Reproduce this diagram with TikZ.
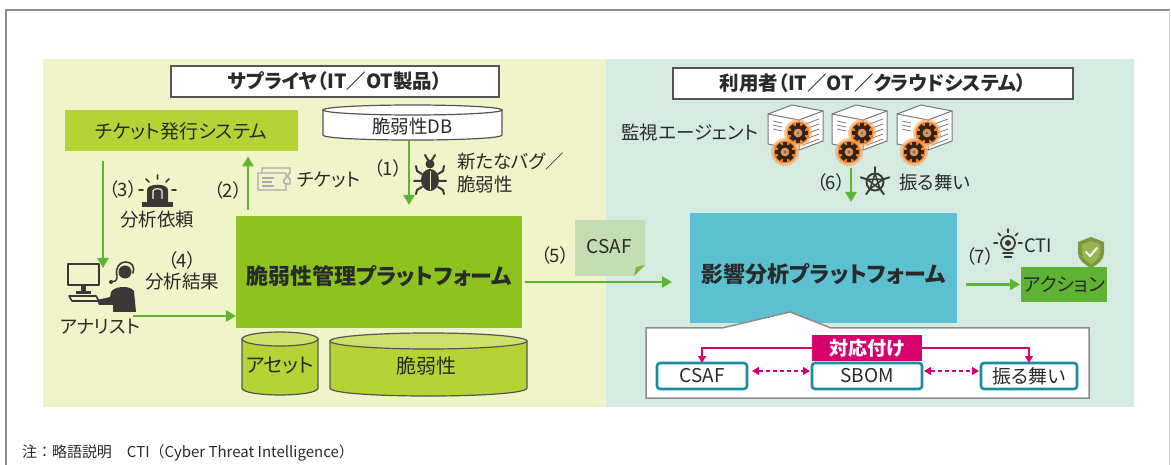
\documentclass[tikz,border=0pt]{standalone}
\usepackage{fontspec}
\setmainfont{Noto Sans CJK JP}[RawFeature={+palt}]
\newfontfamily\plainjp{Noto Sans CJK JP}
\usepackage{tikz}
\usetikzlibrary{arrows.meta,positioning,calc}

\definecolor{inkgray}  {RGB}{ 42, 42, 42}
\definecolor{icondark} {RGB}{ 58, 56, 55}
\definecolor{boxline}  {RGB}{ 85, 85, 85}
\definecolor{framegray}{RGB}{140,140,140}
\definecolor{supzone}  {RGB}{241,244,200}
\definecolor{usrzone}  {RGB}{213,234,225}
\definecolor{limebox}  {RGB}{181,211, 52}
\definecolor{limetop}  {RGB}{205,224,106}
\definecolor{vmgreen}  {RGB}{141,194, 31}
\definecolor{arrgreen} {RGB}{ 92,182, 50}
\definecolor{notegreen}{RGB}{196,221,178}
\definecolor{foldgreen}{RGB}{125,181, 73}
\definecolor{iacyan}   {RGB}{ 91,193,208}
\definecolor{actgreen} {RGB}{ 94,179, 50}
\definecolor{mapred}   {RGB}{214,  0,111}
\definecolor{itemteal} {RGB}{ 24,142,160}
\definecolor{srvline}  {RGB}{120,120,120}
\definecolor{gearglow} {RGB}{247,165, 90}
\definecolor{gearorange}{RGB}{236,128, 45}
\definecolor{geardark} {RGB}{ 52, 34, 20}
\definecolor{gearface} {RGB}{214,150, 95}
\definecolor{shieldol} {RGB}{122,152, 62}
\definecolor{shieldlt} {RGB}{152,180, 84}
\definecolor{tktgray}  {RGB}{170,170,170}

\tikzset{
  txt/.style={font=\fontsize{18.5pt}{23pt}\selectfont,text=inkgray,
              inner sep=0pt,outer sep=0pt},
  boxtxt/.style={txt,font=\fontsize{19pt}{22pt}\selectfont},
  zone/.style={anchor=north west,inner sep=0pt,outer sep=0pt},
  headbox/.style={txt,draw=boxline,fill=white,line width=1.3pt,
                  font=\fontsize{19.5pt}{22pt}\selectfont\bfseries},
  sysbox/.style={boxtxt,fill=limebox},
  platbox/.style={inner sep=0pt,outer sep=0pt},
  plattxt/.style={txt,font=\fontsize{22pt}{26pt}\selectfont\bfseries},
  cyl/.style={draw=boxline,line width=1.2pt},
  mapbox/.style={boxtxt,fill=mapred,text=white,
                 font=\fontsize{19pt}{22pt}\selectfont\bfseries},
  itembox/.style={boxtxt,draw=itemteal,fill=white,line width=2.6pt,
                  rounded corners=3pt},
  garr/.style={-{Triangle[length=10pt,width=11pt]},line width=2.6pt,draw=arrgreen},
  marr/.style={-{Triangle[length=7pt,width=8pt]},line width=1.6pt,draw=mapred},
  mdash/.style={{Triangle[length=7pt,width=8pt]}-{Triangle[length=7pt,width=8pt]},
                line width=1.4pt,draw=mapred,dash pattern=on 4pt off 3pt},
  icon/.style={draw=icondark,line width=2pt,line cap=round,line join=round},
  fnote/.style={txt,font=\plainjp\fontsize{15pt}{17pt}\selectfont},
  pics/gear/.style={code={
    \fill[gearglow,opacity=.6] (0,0) circle (14pt);
    \fill[gearorange] (0,0) circle (11.5pt);
    \foreach \a in {0,45,...,315}
      \fill[geardark,rotate=\a] (-2.4,5.5) rectangle (2.4,10);
    \fill[geardark] (0,0) circle (7.3pt);
    \fill[gearface] (0,0) circle (4.4pt);
    \fill[geardark!70] (0,0) circle (1.3pt);
  }},
  pics/server/.style={code={
    \filldraw[draw=srvline,fill=white,line width=1pt,line join=round]
      (0,9) -- (24,0) -- (55,6) -- (55,36) -- (31,45) -- (0,39) -- cycle;
    \draw[srvline,line width=1pt] (0,9) -- (31,15) -- (55,6) (31,15) -- (31,45);
    \foreach \v in {0,1,2}
      \draw[srvline,line width=.8pt] (5,16+4*\v) -- (14,18+4*\v);
    \foreach \v in {0,...,4}
      \draw[srvline,line width=.8pt] (35,20+5*\v) -- (51,14+5*\v);
    \pic at (30,28) {gear};
    \pic at (17,47) {gear};
  }},
}

\begin{document}
\begin{tikzpicture}[x=1pt,y=-1pt]
  \useasboundingbox (0,0) rectangle (1171,465);

  % outer frame
  \draw[framegray,line width=2pt] (6,465) -- (6,10) -- (1170,10);
  \draw[framegray!45,line width=1pt] (1169,10) -- (1169,465);

  % two zones
  \node[zone,fill=supzone,minimum width=563pt,minimum height=348pt] (supz) at (43,59) {};
  \node[zone,fill=usrzone,minimum width=528pt,minimum height=348pt] (usrz) at (606,59) {};

  \node[headbox,minimum width=328pt,minimum height=31pt] (suphead) at (335,81.5)
    {サプライヤ（IT／OT製品）};
  \node[headbox,minimum width=400pt,minimum height=31pt] (usrhead) at (873,83.5)
    {利用者（IT／OT／クラウドシステム）};

  % supplier side
  \node[sysbox,minimum width=233pt,minimum height=41pt] (ticket) at (181.5,131)
    {チケット発行システム};

  \draw[cyl,fill=white] (323,110) -- (323,135) .. controls (323,141.7) and (502,141.7) .. (502,135) -- (502,110) -- cycle;
  \draw[cyl,fill=white] (412.5,110) ellipse[x radius=89.5,y radius=5];
  \node[txt] (db) at (412.5,126) {脆弱性DB};
  \coordinate (dbfoot) at (409,140);

  \node[platbox,fill=vmgreen,minimum width=286pt,minimum height=112pt] (vmp) at (379,272) {};
  \node[plattxt] (vmptxt) at ([yshift=-4pt]vmp.center) {脆弱性管理プラットフォーム};

  \draw[cyl,fill=limebox] (242,339) -- (242,388) .. controls (242,397.3) and (318,397.3) .. (318,388) -- (318,339) -- cycle;
  \draw[cyl,fill=limetop] (280,339) ellipse[x radius=38,y radius=7];
  \node[txt,font=\fontsize{20pt}{24pt}\selectfont] (asset) at (280,366) {アセット};

  \draw[cyl,fill=limebox] (330,341) -- (330,388) .. controls (330,398.7) and (527,398.7) .. (527,388) -- (527,341) -- cycle;
  \draw[cyl,fill=limetop] (428.5,341) ellipse[x radius=98.5,y radius=8];
  \node[txt,font=\fontsize{20pt}{24pt}\selectfont] (vuln) at (426,366) {脆弱性};

  % analyst
  \draw[icon,line width=2.4pt] (68,264) rectangle (99,285);
  \fill[icondark] (81,286) rectangle (86,292);
  \fill[icondark] (76,291) rectangle (91,294);
  \draw[icon,line width=1.6pt] (69,296) -- (96,296) -- (99,301) -- (72,301) -- cycle;
  \fill[icondark] (125,272) circle (6.5pt);
  \draw[icon,line width=1.6pt] (117,276) .. controls (115,268) and (119,262) .. (126,262)
    .. controls (132,262) and (135,267) .. (133,273);
  \draw[icon,line width=1.4pt] (117,277) .. controls (117,281) and (114,282) .. (111,282);
  \fill[icondark] (111,282) circle (2pt);
  \fill[icondark] (111,292) .. controls (114,286) and (130,285) .. (134,291)
    -- (136,312) -- (113,312) -- (113,305) -- (99,305) -- (97,300) -- (110,297) -- cycle;
  \node[txt] (analyst) at (100,327) {アナリスト};
  \coordinate (anhead) at (103,268);
  \coordinate (anhand) at (133,316);

  % siren
  \fill[icondark] (147,202) -- (147,190) .. controls (147,183) and (168,183) .. (168,190) -- (168,202) -- cycle;
  \draw[supzone,line width=1.2pt] (153,199) -- (153,191) .. controls (153,188) and (162,188) .. (162,191) -- (162,199);
  \fill[icondark] (142,202) rectangle (173,207);
  \draw[icon,line width=1.6pt] (157.5,175) -- (157.5,179) (146,179) -- (149,182) (169,179) -- (166,182)
    (139,190) -- (143,190) (172,190) -- (176,190);

  % ticket
  \draw[tktgray,line width=1.4pt,fill=supzone] (262,168) -- (290,168) -- (290,173)
    .. controls (287,174) and (287,178) .. (290,179) -- (290,184) -- (262,184) -- cycle;
  \draw[tktgray,line width=1.4pt,fill=supzone] (258,173) -- (286,173) -- (286,178)
    .. controls (283,179) and (283,183) .. (286,184) -- (286,190) -- (258,190) -- cycle;
  \draw[tktgray,line width=1.2pt] (262,178) -- (274,178) (262,182) -- (272,182) (262,186) -- (274,186);

  % bug
  \fill[icondark] (430,164) circle (4.5pt);
  \fill[icondark] (430,180) ellipse[x radius=9,y radius=11];
  \draw[supzone,line width=1pt] (430,171) -- (430,190);
  \draw[icon,line width=2pt] (428,160) -- (425,155) (432,160) -- (435,155)
    (422,174) -- (417,171) -- (416,166) (438,174) -- (443,171) -- (444,166)
    (421,181) -- (414,181) (439,181) -- (446,181)
    (422,187) -- (417,190) -- (416,194) (438,187) -- (443,190) -- (444,194);

  % supplier labels
  \node[txt] (n1) at (388,168) {（1）};
  \node[txt,anchor=west,align=left] (newbug) at (457,173) {新たなバグ／\\脆弱性};
  \node[txt] (n2) at (228,190) {（2）};
  \node[txt,anchor=west] (tkt) at (297,180) {チケット};
  \node[txt] (n3) at (123,189) {（3）};
  \node[txt] (req) at (157,220) {分析依頼};
  \node[txt] (n4) at (182,260) {（4）};
  \node[txt,below=4pt of n4] (res) {分析結果};
  \node[txt] (n5) at (555,255) {（5）};

  % CSAF note
  \fill[notegreen] (575,220) -- (645,220) -- (645,265) -- (634,276) -- (575,276) -- cycle;
  \fill[foldgreen] (645,265) -- (634,276) -- (636,267) -- cycle;
  \node[boxtxt] (csafnote) at (609,247) {CSAF};

  % user side
  \pic at (768,105) {server};
  \pic at (832,105) {server};
  \pic at (897,105) {server};
  \node[txt,anchor=east] (agent) at (758,132) {監視エージェント};
  \coordinate (agfoot) at (851,168);

  \draw[icon,line width=1.9pt] (875,182) circle (8.5pt);
  \draw[icon,line width=1.5pt] ($(875,182)+(-90:8.5)$)
    -- ($(875,182)+(54:8.5)$) -- ($(875,182)+(198:8.5)$) -- ($(875,182)+(-18:8.5)$)
    -- ($(875,182)+(126:8.5)$) -- cycle;
  \foreach \a in {-90,-18,54,126,198}
    \draw[icon,line width=1.9pt] ($(875,182)+(\a:8.5)$) -- ($(875,182)+(\a:15)$);
  \node[txt] (n6) at (831,182) {（6）};
  \node[txt,anchor=west] (behave) at (899,182) {振る舞い};

  \node[platbox,fill=iacyan,minimum width=267pt,minimum height=110pt] (vip) at (823.5,268) {};
  \node[plattxt] (viptxt) at ([yshift=-6pt]vip.center) {影響分析プラットフォーム};

  \node[boxtxt,fill=actgreen,minimum width=86pt,minimum height=35pt] (action) at (1064,284.5) {アクション};

  % bulb
  \draw[icon,line width=1.8pt] (1008,243) circle (7pt);
  \fill[icondark] (1008,243) circle (3pt);
  \draw[icon,line width=1.8pt] (1003,253) -- (1013,253) (1004.5,257) -- (1011.5,257);
  \foreach \a in {180,225,270,315,0}
    \draw[icon,line width=1.6pt] ($(1008,243)+(\a:10.5)$) -- ($(1008,243)+(\a:14)$);
  \node[txt] (n7) at (980,256) {（7）};
  \node[txt,anchor=west] (cti) at (1024,246) {CTI};

  % shield
  \fill[shieldol] (1078,242) -- (1091,237) -- (1104,242) -- (1104,253)
    .. controls (1104,260) and (1097,265) .. (1091,268) .. controls (1085,265) and (1078,260) .. (1078,253) -- cycle;
  \fill[shieldlt] (1082,244.5) -- (1091,241) -- (1100,244.5) -- (1100,253)
    .. controls (1100,258) and (1095,262) .. (1091,264) .. controls (1087,262) and (1082,258) .. (1082,253) -- cycle;
  \draw[white,line width=2pt,line cap=round,line join=round] (1086,252) -- (1090,256) -- (1097,248);

  % callout with the mapping
  \draw[framegray,line width=1.5pt,fill=white,line join=miter]
    (646,328) -- (722,328) -- (790,312) -- (831,328) -- (1089,328) -- (1089,398) -- (646,398) -- cycle;
  \node[mapbox,minimum width=110pt,minimum height=26pt] (map) at (867,348) {対応付け};
  \node[itembox,minimum width=90pt,minimum height=26pt] (csafbox) at (702,376) {CSAF};
  \node[itembox,minimum width=110pt,minimum height=26pt] (sbombox) at (867,376) {SBOM};
  \node[itembox,minimum width=96pt,minimum height=26pt] (behbox) at (1029,376) {振る舞い};

  % flows
  \draw[garr,shorten >=11pt] (dbfoot) -- (dbfoot |- vmp.north);
  \draw[garr,shorten <=6pt,shorten >=5pt] ([xshift=12pt]vmp.north west) -- ([xshift=12pt]vmp.north west |- ticket.south);
  \draw[garr,shorten <=10pt] (ticket.south -| anhead) -- (anhead);
  \draw[garr] (anhand) -- (anhand -| vmp.west);
  \draw[garr,shorten <=3pt,shorten >=18pt] ([yshift=-10pt]vmp.east) -- ([yshift=-10pt]vmp.east -| vip.west);
  \draw[garr,shorten >=11pt] (agfoot) -- (agfoot |- vip.north);
  \draw[garr,shorten <=9pt,shorten >=1pt] (vip.east |- action.west) -- (action.west);

  \draw[marr] (map.west) -| (csafbox.north);
  \draw[marr] (map.east) -| (behbox.north);
  \draw[mdash,shorten <=5pt,shorten >=2pt] ([yshift=5pt]csafbox.east) -- ([yshift=5pt]sbombox.west);
  \draw[mdash,shorten <=2pt,shorten >=2pt] ([yshift=5pt]sbombox.east) -- ([yshift=5pt]behbox.west);

  % footnote
  \node[fnote,anchor=west] (abbr) at (22,453) {注：略語説明　CTI（Cyber Threat Intelligence）};
\end{tikzpicture}
\end{document}
